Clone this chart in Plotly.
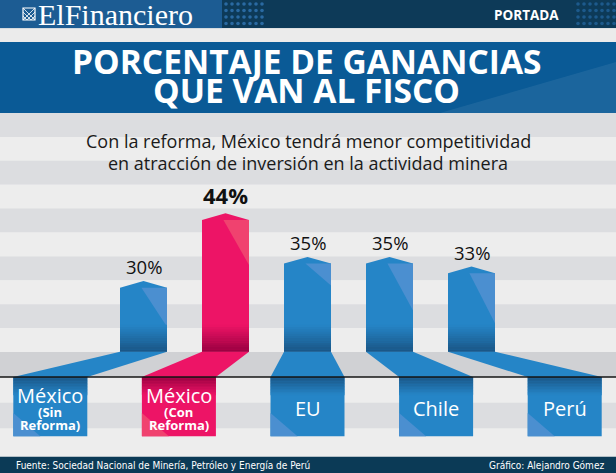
import plotly.graph_objects as go

# ---------------- data ----------------
categories = ["México (Sin Reforma)", "México (Con Reforma)", "EU", "Chile", "Perú"]
values = [30, 44, 35, 35, 33]
value_labels = ["30%", "44%", "35%", "35%", "33%"]
label_main = ["México", "México", "EU", "Chile", "Perú"]
label_sub1 = ["(Sin", "(Con", "", "", ""]
label_sub2 = ["Reforma)", "Reforma)", "", "", ""]
highlight_idx = 1

title_lines = ["PORCENTAJE DE GANANCIAS", "QUE VAN AL FISCO"]
subtitle_lines = ["Con la reforma, México tendrá menor competitividad",
                  "en atracción de inversión en la actividad minera"]
source_text = "Fuente: Sociedad Nacional de Minería, Petróleo y Energía de Perú"
credit_text = "Gráfico: Alejandro Gómez"

# ---------------- geometry / style ----------------
W, H = 616, 473
FLOOR_PX = 351.7
PX_PER_PCT = 4.84
BASE = 16.8
X_CENTER_PX = 307.5
X_STEP_PX = 82.0
BOX_STEP_PX = 128.6
BAR_W_PX = 47.0
BOX_W_PX = 74.0
PEAK_PX = 6.7
BOX_TOP_PX = 377.0
BOX_BOT_PX = 436.3
HL_H_PX = [39, 45, 22, 47, 50]

BLUE, BLUE_DARK, BLUE_LIGHT = "#2585c7", "#1a5585", "#4b8fd0"
PINK, PINK_DARK, PINK_LIGHT = "#ed1466", "#990040", "#f0426f"
NARROW = "DejaVu Sans Condensed, Liberation Sans Narrow, Roboto"


def yv(py):
    return BASE + (FLOOR_PX - py) / PX_PER_PCT


def xv(px):
    return 2 + (px - X_CENTER_PX) / X_STEP_PX


def pyp(py):
    return 1 - py / H


def pxp(px):
    return px / W


def hex2rgb(c):
    c = c.lstrip("#")
    return tuple(int(c[i:i + 2], 16) for i in (0, 2, 4))


def mix(c1, c2, t):
    a, b = hex2rgb(c1), hex2rgb(c2)
    return "rgb(%d,%d,%d)" % tuple(round(a[k] + (b[k] - a[k]) * t) for k in range(3))


shapes = []
annotations = []


def prect(x0, y0, x1, y1, color, layer="below"):
    shapes.append(dict(type="rect", xref="paper", yref="paper",
                       x0=pxp(x0), x1=pxp(x1), y0=pyp(y0), y1=pyp(y1),
                       fillcolor=color, line=dict(width=0), layer=layer))


# ---------------- background ----------------
LIGHT, DARK, FLOOR = "#ededed", "#dcdde0", "#d0d1d4"
prect(0, 0, W, H, LIGHT)
# header
prect(0, 0, W, 28.3, "#0d3a58")
prect(0, 0, 222, 28.3, "#1c5c93")
for col in range(7):
    for row in range(4):
        cx = 226 + col * 6
        cy = 4 + row * 6.5
        shapes.append(dict(type="circle", xref="paper", yref="paper",
                           x0=pxp(cx - 1.8), x1=pxp(cx + 1.8), y0=pyp(cy - 1.8), y1=pyp(cy + 1.8),
                           fillcolor="#2a6aa2", line=dict(width=0), layer="below"))
        cx2 = 578 + col * 6
        shapes.append(dict(type="circle", xref="paper", yref="paper",
                           x0=pxp(cx2 - 1.8), x1=pxp(cx2 + 1.8), y0=pyp(cy - 1.8), y1=pyp(cy + 1.8),
                           fillcolor="#1d5a8c", line=dict(width=0), layer="below"))
prect(0, 28.3, W, 42, "#ebebeb")
prect(0, 42, W, 113, "#0a5a96")
shapes.append(dict(type="path", xref="paper", yref="paper",
                   path="M %f %f L %f %f L %f %f Z" % (pxp(440), pyp(113), pxp(W), pyp(62), pxp(W), pyp(113)),
                   fillcolor="rgba(255,255,255,0.07)", line=dict(width=0), layer="below"))
# stripes
bounds = [113 + k * 23.9 for k in range(11)]
for k in range(10):
    prect(0, bounds[k], W, bounds[k + 1], DARK if k % 2 == 0 else LIGHT)
prect(0, 352, W, 377, FLOOR)
prect(0, 402.7, W, 428.3, DARK)
prect(0, 456.7, W, H, "#0b3a56")

# logo icon
shapes.append(dict(type="rect", xref="paper", yref="paper",
                   x0=pxp(23), x1=pxp(35), y0=pyp(20), y1=pyp(8),
                   fillcolor="rgba(0,0,0,0)", line=dict(color="white", width=1.2), layer="above"))
for d in (0, 4, 8):
    shapes.append(dict(type="line", xref="paper", yref="paper",
                       x0=pxp(23 + d), y0=pyp(20), x1=pxp(35), y1=pyp(8 + d),
                       line=dict(color="white", width=0.8), layer="above"))
    shapes.append(dict(type="line", xref="paper", yref="paper",
                       x0=pxp(23), y0=pyp(8 + d), x1=pxp(35 - d), y1=pyp(20),
                       line=dict(color="white", width=0.8), layer="above"))

# ---------------- bars ----------------
fig = go.Figure()
hw = BAR_W_PX / 2 / X_STEP_PX
bw = BOX_W_PX / 2 / X_STEP_PX
peak = PEAK_PX / PX_PER_PCT
y_box_top = yv(BOX_TOP_PX)
y_box_bot = yv(BOX_BOT_PX)

for i, (cat, v) in enumerate(zip(categories, values)):
    col = PINK if i == highlight_idx else BLUE
    dark = PINK_DARK if i == highlight_idx else BLUE_DARK
    light = PINK_LIGHT if i == highlight_idx else BLUE_LIGHT
    bx = 2 + (i - 2) * BOX_STEP_PX / X_STEP_PX

    # ribbon on the floor
    fig.add_trace(go.Scatter(
        x=[i - hw, i + hw, bx + bw, bx - bw, i - hw],
        y=[BASE, BASE, y_box_top, y_box_top, BASE],
        fill="toself", mode="lines", line=dict(width=0), fillcolor=col,
        hoverinfo="skip", showlegend=False))
    # bar body
    fig.add_trace(go.Scatter(
        x=[i - hw, i - hw, i, i + hw, i + hw, i - hw],
        y=[BASE, v, v + peak, v, BASE, BASE],
        fill="toself", mode="lines", line=dict(width=0), fillcolor=col,
        name=cat, hoverinfo="skip", showlegend=False))
    # highlight triangle
    hl = HL_H_PX[i] / PX_PER_PCT
    shapes.append(dict(type="path", xref="x", yref="y",
                       path="M %f %f L %f %f L %f %f Z" % (i - 0.025, v, i + hw, v, i + hw, v - hl),
                       fillcolor=light, line=dict(width=0), layer="above"))
    # bottom gradient of bar
    g_top = yv(325)
    n = 12
    for k in range(n):
        y0 = g_top - (g_top - BASE) * k / n
        y1 = g_top - (g_top - BASE) * (k + 1) / n
        shapes.append(dict(type="rect", xref="x", yref="y",
                           x0=i - hw, x1=i + hw, y0=y0 + 0.05, y1=y1,
                           fillcolor=mix(col, dark, (k + 0.5) / n), line=dict(width=0), layer="above"))
    # label box
    shapes.append(dict(type="rect", xref="x", yref="y",
                       x0=bx - bw, x1=bx + bw, y0=y_box_top, y1=y_box_bot,
                       fillcolor=col, line=dict(width=0), layer="above"))
    gb_bot = yv(395)
    for k in range(n):
        y0 = y_box_top - (y_box_top - gb_bot) * k / n
        y1 = y_box_top - (y_box_top - gb_bot) * (k + 1) / n
        shapes.append(dict(type="rect", xref="x", yref="y",
                           x0=bx - bw, x1=bx + bw, y0=y0, y1=y1 - 0.05,
                           fillcolor=mix(dark, col, (k + 0.5) / n), line=dict(width=0), layer="above"))
    shapes.append(dict(type="path", xref="x", yref="y",
                       path="M %f %f L %f %f L %f %f Z" % (bx - bw, yv(413), bx - bw, y_box_bot,
                                                           bx - bw + 27 / X_STEP_PX, y_box_bot),
                       fillcolor=light, line=dict(width=0), layer="above"))

    # value label
    bold = i == highlight_idx
    annotations.append(dict(
        x=i, y=v + peak, xref="x", yref="y", yanchor="bottom", yshift=0 if not bold else 1,
        text=("<b>%s</b>" % value_labels[i]) if bold else value_labels[i], showarrow=False,
        font=dict(family="Open Sans", size=22 if bold else 18.5, color="#111111")))
    # box labels
    if label_sub1[i]:
        annotations.append(dict(x=bx, y=yv(395), xref="x", yref="y", text=label_main[i],
                                showarrow=False, borderpad=0,
                                font=dict(family="Open Sans", size=20, color="white")))
        annotations.append(dict(x=bx, y=yv(412), xref="x", yref="y", text="<b>%s</b>" % label_sub1[i],
                                showarrow=False, borderpad=0,
                                font=dict(family="Open Sans", size=13, color="white")))
        annotations.append(dict(x=bx, y=yv(424.5), xref="x", yref="y", text="<b>%s</b>" % label_sub2[i],
                                showarrow=False, borderpad=0,
                                font=dict(family="Open Sans", size=13, color="white")))
    else:
        annotations.append(dict(x=bx, y=yv(408), xref="x", yref="y", text=label_main[i],
                                showarrow=False, font=dict(family="Open Sans", size=20, color="white")))

# floor line
shapes.append(dict(type="line", xref="paper", yref="paper", x0=0, x1=1, y0=pyp(377), y1=pyp(377),
                   line=dict(color="#151515", width=1.3), layer="above"))

# ---------------- texts ----------------
annotations.append(dict(x=pxp(37), y=pyp(14.5), xref="paper", yref="paper", xanchor="left", yanchor="middle",
                        text="ElFinanciero", showarrow=False, borderpad=0,
                        font=dict(family="Liberation Serif", size=30, color="white")))
annotations.append(dict(x=pxp(526), y=pyp(15), xref="paper", yref="paper", xanchor="center", yanchor="middle",
                        text="<b>PORTADA</b>", showarrow=False,
                        font=dict(family="Open Sans", size=13.5, color="white")))
for j, (t, cy) in enumerate(zip(title_lines, [60.5, 90])):
    annotations.append(dict(x=pxp(306), y=pyp(cy), xref="paper", yref="paper", xanchor="center",
                            yanchor="middle", text="<b>%s</b>" % t, showarrow=False, borderpad=0,
                            font=dict(family="Open Sans", size=33.5, color="white")))
for t, cy in zip(subtitle_lines, [141.5, 162.5]):
    annotations.append(dict(x=pxp(308), y=pyp(cy), xref="paper", yref="paper", xanchor="center",
                            yanchor="middle", text=t, showarrow=False, borderpad=0,
                            font=dict(family="Open Sans", size=18, color="#1a1a1a")))
annotations.append(dict(x=pxp(15), y=pyp(465), xref="paper", yref="paper", xanchor="left", yanchor="middle",
                        text=source_text, showarrow=False, borderpad=0,
                        font=dict(family=NARROW, size=10, color="white")))
annotations.append(dict(x=pxp(605), y=pyp(465), xref="paper", yref="paper", xanchor="right", yanchor="middle",
                        text=credit_text, showarrow=False, borderpad=0,
                        font=dict(family=NARROW, size=10, color="white")))

fig.update_layout(
    width=W, height=H, margin=dict(l=0, r=0, t=0, b=0),
    paper_bgcolor=LIGHT, plot_bgcolor="rgba(0,0,0,0)",
    xaxis=dict(range=[xv(0), xv(W)], visible=False, fixedrange=True),
    yaxis=dict(range=[yv(H), yv(0)], visible=False, fixedrange=True),
    shapes=shapes, annotations=annotations, showlegend=False,
)
fig.write_html("out.html", config={"displayModeBar": False})
